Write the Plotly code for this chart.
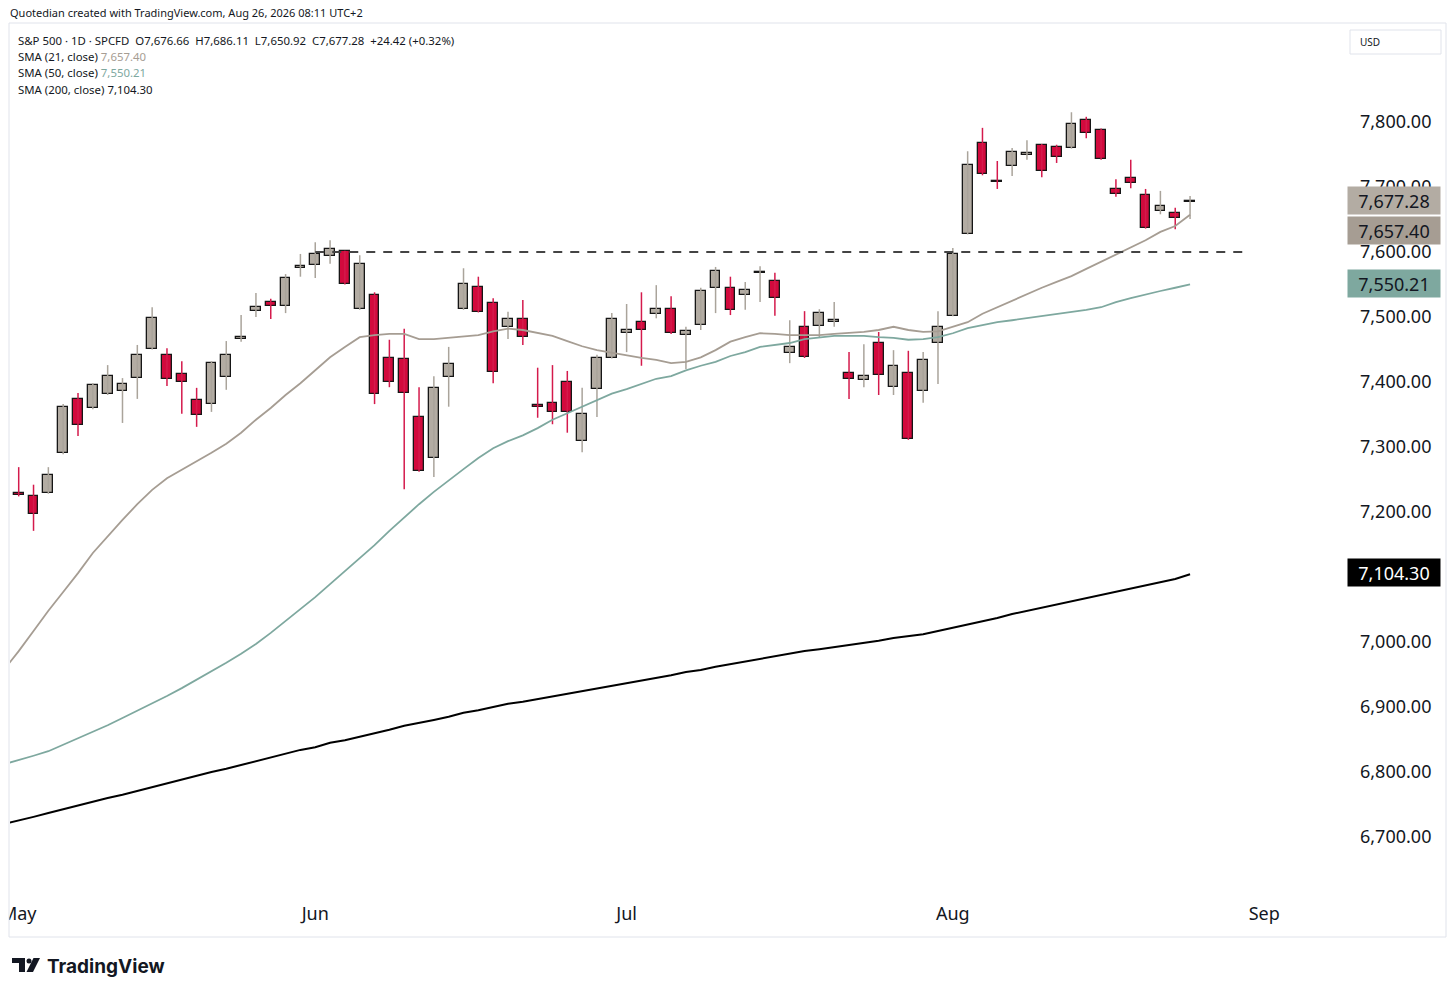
import pandas as pd
import plotly.graph_objects as go

# trading days (first one only carries the moving averages, its candle is off-screen)
trade_days = [
    "2026-04-30",
    "2026-05-01", "2026-05-04", "2026-05-05", "2026-05-06", "2026-05-07", "2026-05-08",
    "2026-05-11", "2026-05-12", "2026-05-13", "2026-05-14", "2026-05-15",
    "2026-05-18", "2026-05-19", "2026-05-20", "2026-05-21", "2026-05-22",
    "2026-05-26", "2026-05-27", "2026-05-28", "2026-05-29",
    "2026-06-01", "2026-06-02", "2026-06-03", "2026-06-04", "2026-06-05",
    "2026-06-08", "2026-06-09", "2026-06-10", "2026-06-11", "2026-06-12",
    "2026-06-15", "2026-06-16", "2026-06-17", "2026-06-18",
    "2026-06-22", "2026-06-23", "2026-06-24", "2026-06-25", "2026-06-26",
    "2026-06-29", "2026-06-30", "2026-07-01", "2026-07-02",
    "2026-07-06", "2026-07-07", "2026-07-08", "2026-07-09", "2026-07-10",
    "2026-07-13", "2026-07-14", "2026-07-15", "2026-07-16", "2026-07-17",
    "2026-07-20", "2026-07-21", "2026-07-22", "2026-07-23", "2026-07-24",
    "2026-07-27", "2026-07-28", "2026-07-29", "2026-07-30", "2026-07-31",
    "2026-08-03", "2026-08-04", "2026-08-05", "2026-08-06", "2026-08-07",
    "2026-08-10", "2026-08-11", "2026-08-12", "2026-08-13", "2026-08-14",
    "2026-08-17", "2026-08-18", "2026-08-19", "2026-08-20", "2026-08-21",
    "2026-08-24", "2026-08-25",
]
holidays = ["2026-05-25", "2026-06-19", "2026-07-03"]

open_ = [7230, 7225, 7229, 7291, 7374, 7360, 7382, 7386, 7406, 7451,
         7442, 7412, 7372, 7366, 7408, 7466, 7509, 7523, 7517, 7576,
         7580, 7594, 7601, 7512, 7534, 7437, 7435, 7346, 7283, 7408,
         7512, 7546, 7522, 7485, 7497, 7364, 7368, 7400, 7309, 7389,
         7437, 7475, 7492, 7505, 7512, 7472, 7488, 7545, 7545, 7534,
         7568, 7555, 7445, 7485, 7486, 7493, 7414, 7403, 7460, 7392,
         7414, 7386, 7460, 7502, 7628, 7768, 7710, 7732, 7750, 7765,
         7762, 7760, 7803, 7788, 7697, 7714, 7688, 7663, 7660, 7676.66]
high = [7269, 7242, 7269, 7366, 7383, 7398, 7426, 7406, 7457, 7515,
        7452, 7432, 7391, 7432, 7463, 7503, 7537, 7528, 7566, 7597,
        7615, 7618, 7602, 7595, 7538, 7465, 7482, 7392, 7409, 7454,
        7575, 7562, 7529, 7508, 7526, 7422, 7426, 7417, 7391, 7442,
        7506, 7520, 7538, 7549, 7532, 7485, 7545, 7577, 7562, 7554,
        7578, 7568, 7495, 7509, 7512, 7523, 7446, 7458, 7477, 7449,
        7448, 7446, 7509, 7606, 7755, 7791, 7740, 7760, 7772, 7766,
        7765, 7815, 7808, 7790, 7712, 7742, 7697, 7694, 7668, 7686.11]
low = [7224, 7171, 7228, 7289, 7317, 7358, 7380, 7337, 7374, 7450,
       7394, 7351, 7331, 7354, 7388, 7462, 7500, 7497, 7506, 7562,
       7560, 7582, 7550, 7511, 7366, 7392, 7235, 7262, 7254, 7362,
       7511, 7507, 7398, 7466, 7457, 7345, 7335, 7322, 7292, 7346,
       7436, 7446, 7425, 7498, 7474, 7420, 7480, 7506, 7503, 7511,
       7523, 7502, 7429, 7437, 7468, 7485, 7374, 7392, 7380, 7380,
       7311, 7368, 7397, 7501, 7627, 7718, 7697, 7717, 7742, 7715,
       7737, 7759, 7775, 7742, 7685, 7698, 7636, 7658, 7635, 7650.92]
close = [7226, 7197, 7257, 7362, 7334, 7395, 7409, 7397, 7442, 7498,
         7405, 7400, 7349, 7429, 7442, 7469, 7515, 7517, 7560, 7578,
         7597, 7605, 7551, 7582, 7382, 7400, 7383, 7263, 7391, 7428,
         7551, 7508, 7415, 7497, 7469, 7362, 7354, 7354, 7351, 7437,
         7497, 7480, 7480, 7512, 7475, 7478, 7540, 7571, 7511, 7542,
         7570, 7529, 7454, 7438, 7506, 7495, 7405, 7409, 7411, 7425,
         7312, 7434, 7485, 7597, 7734, 7720, 7708, 7754, 7752, 7725,
         7746, 7797, 7783, 7743, 7689, 7706, 7637, 7671, 7652.86, 7677.28]

sma21 = [6957, 6986, 7017, 7048, 7077, 7106, 7137, 7163, 7188, 7212, 7234,
         7252, 7265, 7277, 7291, 7305, 7322, 7342, 7360, 7380, 7398,
         7418, 7438, 7454, 7469, 7472, 7474, 7474, 7466, 7466, 7468,
         7469, 7472, 7478, 7482, 7480, 7475, 7471, 7463, 7455, 7449,
         7445, 7440, 7437, 7434, 7429, 7431, 7438, 7449, 7462, 7469,
         7475, 7474, 7472, 7472, 7472, 7474, 7475, 7477, 7480, 7485,
         7480, 7477, 7478, 7485, 7492, 7505, 7515, 7526, 7535, 7545,
         7554, 7563, 7574, 7585, 7597, 7608, 7618, 7631, 7640, 7657.40]
sma50 = [6812, 6818, 6825, 6832, 6842, 6851, 6862, 6872, 6883, 6894, 6906,
         6917, 6929, 6942, 6954, 6968, 6982, 6997, 7014, 7032, 7051,
         7069, 7089, 7109, 7129, 7149, 7171, 7192, 7212, 7231, 7249,
         7266, 7283, 7298, 7309, 7318, 7329, 7342, 7352, 7362, 7371,
         7382, 7389, 7397, 7405, 7409, 7418, 7425, 7431, 7440, 7446,
         7454, 7457, 7460, 7466, 7468, 7471, 7471, 7471, 7469, 7468,
         7465, 7466, 7469, 7475, 7483, 7488, 7492, 7495, 7498, 7502,
         7505, 7508, 7511, 7515, 7523, 7529, 7535, 7540, 7545, 7550.21]
sma200 = [6720, 6725, 6731, 6737, 6743, 6748, 6754, 6760, 6765, 6771, 6777,
          6782, 6788, 6794, 6800, 6805, 6811, 6817, 6823, 6828, 6834,
          6838, 6845, 6849, 6854, 6860, 6865, 6871, 6875, 6880, 6885,
          6891, 6895, 6900, 6905, 6908, 6912, 6917, 6920, 6925, 6928,
          6932, 6937, 6940, 6945, 6949, 6954, 6957, 6962, 6966, 6971,
          6975, 6978, 6983, 6986, 6989, 6992, 6995, 6998, 7002, 7006,
          7009, 7012, 7017, 7022, 7026, 7032, 7037, 7043, 7048, 7052,
          7058, 7063, 7068, 7072, 7078, 7083, 7088, 7092, 7097, 7104.30]

level = 7600
level_from, level_to = "2026-06-01", "2026-08-31"

month_ticks = ["2026-05-01", "2026-06-01", "2026-07-01", "2026-08-03", "2026-09-01"]
month_text = ["May", "Jun", "Jul", "Aug", "Sep"]
price_ticks = [6700, 6800, 6900, 7000, 7100, 7200, 7300, 7400, 7500, 7600, 7700, 7800]

UP, DOWN = "#b3aca3", "#d20a3d"
UP_WICK, DOWN_WICK = "#aaa49b", "#d41a4c"
C21, C50, C200 = "#a69d93", "#7ea89f", "#000000"
INK = "#131722"
FONT = "Noto Sans"

half_day = pd.Timedelta(hours=12)
days = pd.to_datetime(trade_days) + half_day
cdays = days[1:]

fig = go.Figure()

# wicks
for up in (True, False):
    wx, wy = [], []
    for d, o, h, l, c in zip(cdays, open_, high, low, close):
        if (c >= o) == up:
            wx += [d, d, None]
            wy += [l, h, None]
    fig.add_trace(go.Scatter(x=wx, y=wy, mode="lines",
                             line=dict(color=UP_WICK if up else DOWN_WICK, width=1.5),
                             hoverinfo="skip", showlegend=False))

# bodies
body_low = [min(o, c) for o, c in zip(open_, close)]
body_h = [max(abs(c - o), 1.6) for o, c in zip(open_, close)]
body_col = [UP if c >= o else DOWN for o, c in zip(open_, close)]
fig.add_trace(go.Bar(x=cdays, y=body_h, base=body_low, width=0.66 * 86400000,
                     marker=dict(color=body_col, line=dict(color="#161616", width=1.3)),
                     showlegend=False, hoverinfo="skip"))

# moving averages
for vals, col, w in ((sma21, C21, 1.8), (sma50, C50, 1.8), (sma200, C200, 2)):
    fig.add_trace(go.Scatter(x=days, y=vals, mode="lines",
                             line=dict(color=col, width=w), showlegend=False,
                             hoverinfo="skip"))

# horizontal resistance
fig.add_trace(go.Scatter(x=pd.to_datetime([level_from, level_to]) + half_day,
                         y=[level, level], mode="lines",
                         line=dict(color="#444444", width=1.8, dash="9px,8px"),
                         showlegend=False, hoverinfo="skip"))

# plot box in pixels: x 10..1345, y 22..893
PX0, PX1, PY0, PY1 = 10, 1345, 22, 893


def px(x):
    return (x - PX0) / (PX1 - PX0)


def py(y):
    return (PY1 - y) / (PY1 - PY0)


shapes = [
    dict(type="rect", xref="paper", yref="paper", x0=px(-2), x1=px(9),
         y0=py(937), y1=py(PY1), fillcolor="white", line=dict(width=0), layer="above"),
    dict(type="rect", xref="paper", yref="paper", x0=px(9), x1=px(1446),
         y0=py(937), y1=py(23), line=dict(color="#e0e3eb", width=1), layer="above"),
    dict(type="rect", xref="paper", yref="paper", x0=px(1350), x1=px(1441),
         y0=py(54), y1=py(30), line=dict(color="#e0e3eb", width=1), fillcolor="white"),
    # TradingView logo
    dict(type="path", xref="paper", yref="paper", fillcolor=INK, line=dict(width=0),
         path=f"M {px(12)},{py(958)} L {px(25)},{py(958)} L {px(25)},{py(972)} "
              f"L {px(19)},{py(972)} L {px(19)},{py(963)} L {px(12)},{py(963)} Z"),
    dict(type="circle", xref="paper", yref="paper", fillcolor=INK, line=dict(width=0),
         x0=px(26.5), x1=px(31.5), y0=py(963.5), y1=py(958.5)),
    dict(type="path", xref="paper", yref="paper", fillcolor=INK, line=dict(width=0),
         path=f"M {px(33.5)},{py(958)} L {px(40)},{py(958)} L {px(33)},{py(972)} "
              f"L {px(26.5)},{py(972)} Z"),
]

sp = "\u00a0"
chg = close[-1] - close[-2]
line1 = (f"S&P 500 · 1D · SPCFD{sp*2}O{open_[-1]:,.2f}{sp*2}H{high[-1]:,.2f}{sp*2}"
         f"L{low[-1]:,.2f}{sp*2}C{close[-1]:,.2f}{sp*2}{chg:+.2f} ({chg / close[-2] * 100:+.2f}%)")
legend_lines = [
    line1,
    f"SMA (21, close){sp}<span style='color:{C21}'>{sma21[-1]:,.2f}</span>",
    f"SMA (50, close){sp}<span style='color:{C50}'>{sma50[-1]:,.2f}</span>",
    f"SMA (200, close){sp}<span style='color:{INK}'>{sma200[-1]:,.2f}</span>",
]

ann = [dict(text="Quotedian created with TradingView.com, Aug 26, 2026 08:11 UTC+2",
            xref="paper", yref="paper", x=px(8), y=py(12), xanchor="left",
            yanchor="middle", showarrow=False, font=dict(size=11, color=INK))]
for k, t in enumerate(legend_lines):
    ann.append(dict(text=t, xref="paper", yref="paper", x=px(16), y=py(40 + 16.4 * k),
                    xanchor="left", yanchor="middle", showarrow=False,
                    font=dict(size=11.4, color=INK)))
ann.append(dict(text="USD", xref="paper", yref="paper", x=px(1358), y=py(42),
                xanchor="left", yanchor="middle", showarrow=False,
                font=dict(size=10, color=INK)))
ann.append(dict(text="<b>TradingView</b>", xref="paper", yref="paper", x=px(45), y=py(966),
                xanchor="left", yanchor="middle", showarrow=False,
                font=dict(family="Inter", size=19, color=INK)))

# last-value price tags
tags = [(close[-1], UP, INK, 1), (sma21[-1], C21, INK, -16),
        (sma50[-1], C50, INK, 1), (sma200[-1], C200, "white", 2)]
for val, bg, fg, shift in tags:
    ann.append(dict(text=f"{val:,.2f}", xref="paper", yref="y", x=px(1394), y=val,
                    yshift=shift, xanchor="center", yanchor="middle", showarrow=False,
                    bgcolor=bg, width=90, height=25, borderpad=1,
                    font=dict(size=18, color=fg)))

fig.update_layout(
    width=1456, height=995,
    margin=dict(l=PX0, r=1456 - PX1, t=PY0, b=995 - PY1, autoexpand=False),
    paper_bgcolor="white", plot_bgcolor="white",
    font=dict(family=FONT, color=INK),
    showlegend=False, hovermode=False, bargap=0,
    shapes=shapes, annotations=ann,
    xaxis=dict(type="date",
               range=["2026-04-30 21:55", "2026-09-08 22:48"],
               rangebreaks=[dict(bounds=["sat", "mon"]), dict(values=holidays)],
               tickvals=pd.to_datetime(month_ticks) + half_day, ticktext=month_text,
               showgrid=False, zeroline=False, showline=False, ticks="",
               tickfont=dict(size=18, color=INK), ticklabelstandoff=8),
    yaxis=dict(side="right", range=[6613.85, 7953.85], tickvals=price_ticks,
               tickformat=",.2f", showgrid=False, zeroline=False, showline=False,
               ticks="", tickfont=dict(size=18, color=INK), ticklabelstandoff=14),
)

# the page's default 8px body margin would shift the chart
fig.write_html("out.html", config={"displayModeBar": False},
               post_script="document.body.style.margin='0px';")
